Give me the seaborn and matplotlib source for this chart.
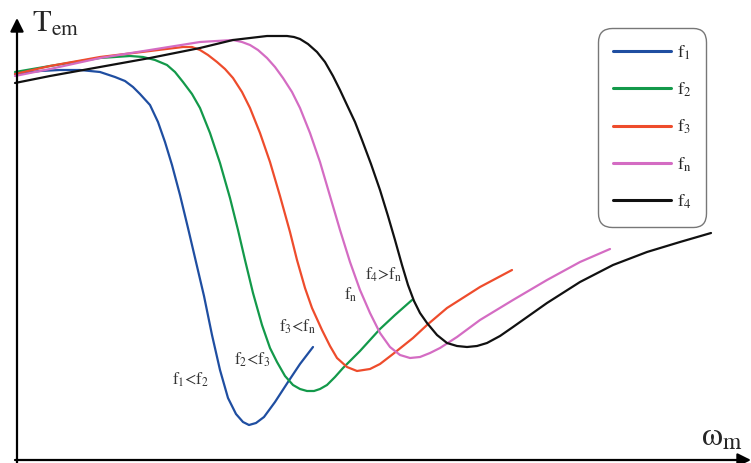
import matplotlib
matplotlib.use("Agg")
import matplotlib.pyplot as plt
import seaborn as sns
import pandas as pd

# Torque-speed characteristics for different supply frequencies
omega_f1 = [15, 40, 60, 80, 100, 115, 125, 133, 140, 150, 158, 165, 172, 180, 188, 196, 204, 212, 220,
            228, 236, 243, 249, 256, 264, 275, 288, 300, 313]
torque_f1 = [389, 392, 393, 393, 391, 386, 382, 376, 369, 358, 341, 321, 298, 268, 235, 201, 167, 128, 93,
             65, 49, 41, 38, 40, 46, 61, 81, 99, 116]

omega_f2 = [15, 50, 100, 130, 143, 155, 167, 175, 183, 192, 200, 210, 220, 230, 238, 245, 253, 262, 270,
            277, 285, 293, 300, 307, 314, 320, 327, 335, 343, 360, 380, 395, 412]
torque_f2 = [391, 397, 405, 407, 406, 403, 398, 391, 381, 369, 355, 330, 300, 265, 233, 203, 170, 138, 115,
             101, 87, 78, 74, 72, 72, 74, 78, 86, 95, 112, 134, 148, 163]

omega_f3 = [15, 50, 100, 150, 183, 192, 200, 208, 217, 225, 233, 242, 250, 260, 270, 280, 290, 297, 305,
            312, 322, 330, 337, 347, 357, 370, 380, 393, 413, 427, 447, 480, 512]
torque_f3 = [389, 397, 406, 412, 416, 416, 413, 408, 401, 394, 385, 371, 355, 330, 301, 267, 231, 203, 175,
             155, 133, 117, 105, 96, 92, 94, 99, 109, 125, 138, 155, 176, 193]

omega_fn = [15, 50, 100, 150, 200, 233, 242, 250, 258, 267, 275, 283, 292, 300, 310, 320, 330, 340, 350,
            360, 370, 380, 390, 400, 410, 420, 430, 440, 457, 480, 513, 547, 580, 610]
torque_fn = [387, 394, 405, 413, 421, 423, 421, 418, 413, 405, 396, 385, 371, 355, 330, 301, 267, 233, 201,
             173, 150, 130, 116, 108, 105, 106, 110, 115, 126, 143, 163, 183, 201, 214]

omega_f4 = [15, 50, 100, 150, 200, 233, 267, 287, 294, 300, 308, 317, 325, 333, 340, 347, 355, 362, 371,
            380, 388, 395, 402, 408, 414, 420, 427, 437, 447, 457, 467, 477, 487, 500, 513, 547, 580, 613,
            647, 680, 711]
torque_f4 = [380, 387, 396, 405, 415, 423, 427, 427, 426, 424, 419, 411, 401, 387, 373, 358, 341, 323, 299,
             273, 247, 223, 198, 178, 162, 150, 140, 128, 120, 117, 116, 117, 120, 127, 136, 160, 181, 198,
             211, 221, 230]

series_names = [r"f$_1$", r"f$_2$", r"f$_3$", r"f$_\mathrm{n}$", r"f$_4$"]
series_colors = ["#1f4ea1", "#13994a", "#ee4c2c", "#d46cc3", "#111111"]

relation_labels = [r"f$_1$<f$_2$", r"f$_2$<f$_3$", r"f$_3$<f$_\mathrm{n}$", r"f$_\mathrm{n}$",
                   r"f$_4$>f$_\mathrm{n}$"]
relation_omega = [191, 252, 298, 351, 384]
relation_torque = [83, 103, 136, 168, 188]

frames = []
for name, w, t in zip(series_names,
                      [omega_f1, omega_f2, omega_f3, omega_fn, omega_f4],
                      [torque_f1, torque_f2, torque_f3, torque_fn, torque_f4]):
    frames.append(pd.DataFrame({"omega": w, "torque": t, "freq": name}))
df = pd.concat(frames, ignore_index=True)

sns.set_style("white")
plt.rcParams["font.family"] = ["STIXGeneral", "DejaVu Serif"]
plt.rcParams["mathtext.fontset"] = "stix"

fig = plt.figure(figsize=(7.51, 4.63), dpi=100)
ax = fig.add_axes([0, 0, 1, 1])

sns.lineplot(data=df, x="omega", y="torque", hue="freq", hue_order=series_names,
             palette=dict(zip(series_names, series_colors)), estimator=None,
             sort=False, linewidth=1.6, ax=ax)
for ln in ax.get_lines():
    ln.set_solid_joinstyle("round")
    ln.set_solid_capstyle("round")

ax.set_xlim(0, 751)
ax.set_ylim(0, 463)
ax.set_axis_off()

# Axes drawn as arrows
arrow = dict(arrowstyle="-|>", color="black", lw=1.6, mutation_scale=20, shrinkA=0, shrinkB=0)
ax.annotate("", xy=(17, 445), xytext=(17, 0), arrowprops=arrow)
ax.annotate("", xy=(751, 3), xytext=(15, 3), arrowprops=arrow)

ax.text(32, 431, r"T$_{\mathrm{em}}$", fontsize=22, ha="left", va="baseline")
ax.text(701, 18, r"ω$_{\mathrm{m}}$", fontsize=24, ha="left", va="baseline")

for lab, x, y in zip(relation_labels, relation_omega, relation_torque):
    ax.text(x, y, lab, fontsize=12, ha="center", va="center", color="#333333")

leg = ax.legend(loc="upper left", bbox_to_anchor=(598 / 751, 1 - 28 / 463),
                borderaxespad=0, frameon=True, fancybox=True, fontsize=13,
                handlelength=3.2, handletextpad=0.3, labelspacing=1.05,
                borderpad=0.85, title=None)
frame = leg.get_frame()
frame.set_boxstyle("round,pad=0,rounding_size=0.75")
frame.set_edgecolor("#555555")
frame.set_linewidth(1.0)
for h in leg.get_lines():
    h.set_linewidth(2.2)

fig.savefig("out.png", dpi=100)
